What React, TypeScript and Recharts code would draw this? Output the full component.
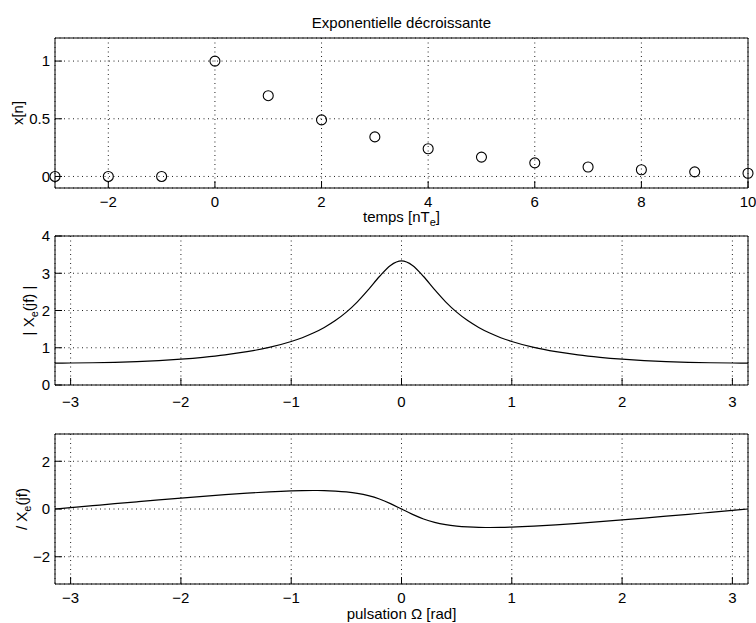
import React from "react";
import { LineChart, Line, XAxis, YAxis, CartesianGrid } from "recharts";

// ---- data: discrete sequence ----
const nValues = [-3, -2, -1, 0, 1, 2, 3, 4, 5, 6, 7, 8, 9, 10];
const xValues = [0, 0, 0, 1, 0.7, 0.49, 0.343, 0.24, 0.168, 0.118, 0.082, 0.058, 0.04, 0.028];

// ---- data: spectrum ----
const omega = [
  -3.14159, -3.0, -2.8, -2.6, -2.4, -2.2, -2.0, -1.8, -1.6, -1.4, -1.2, -1.0, -0.9, -0.8, -0.7,
  -0.6, -0.5, -0.4, -0.3, -0.2, -0.1, 0, 0.1, 0.2, 0.3, 0.4, 0.5, 0.6, 0.7, 0.8, 0.9, 1.0, 1.2,
  1.4, 1.6, 1.8, 2.0, 2.2, 2.4, 2.6, 2.8, 3.0, 3.14159,
];
const magnitude = [
  0.588, 0.59, 0.597, 0.61, 0.63, 0.657, 0.695, 0.744, 0.808, 0.894, 1.009, 1.168, 1.27, 1.394,
  1.545, 1.729, 1.956, 2.233, 2.561, 2.912, 3.211, 3.333, 3.211, 2.912, 2.561, 2.233, 1.956,
  1.729, 1.545, 1.394, 1.27, 1.168, 1.009, 0.894, 0.808, 0.744, 0.695, 0.657, 0.63, 0.61, 0.597,
  0.59, 0.588,
];
const phase = [
  0, 0.058, 0.14, 0.222, 0.302, 0.381, 0.458, 0.532, 0.601, 0.664, 0.718, 0.758, 0.771, 0.775,
  0.771, 0.752, 0.716, 0.655, 0.558, 0.417, 0.226, 0, -0.226, -0.417, -0.558, -0.655, -0.716,
  -0.752, -0.771, -0.775, -0.771, -0.758, -0.718, -0.664, -0.601, -0.532, -0.458, -0.381, -0.302,
  -0.222, -0.14, -0.058, 0,
];

// ---- tick labels ----
const ticksN = [-2, 0, 2, 4, 6, 8, 10];
const ticksX = [0, 0.5, 1];
const ticksOmega = [-3, -2, -1, 0, 1, 2, 3];
const ticksMag = [0, 1, 2, 3, 4];
const ticksPhase = [-2, 0, 2];

const titleText = "Exponentielle décroissante";

const seqData = nValues.map((n, i) => ({ n, x: xValues[i] }));
const specData = omega.map((w, i) => ({ w, mag: magnitude[i], ph: phase[i] }));

const FONT = "'Liberation Sans', Arial, Helvetica, sans-serif";
const FS = 15;
const tickStyle = { fontSize: FS, fill: "#000", fontFamily: FONT };
const fmt = (v: number) => String(v).replace("-", "\u2212");
const PI = Math.PI;

const W = 756;
const H = 623;
const LEFT_W = 40;
const RIGHT_W = 8;
const TOP_H = 8;
const BOT_H = 30;

const frameProps = { stroke: "#000", strokeWidth: 1 };

function rotLabel(parts: React.ReactNode, baselineX: number) {
  return (props: any) => {
    const vb = props.viewBox;
    const cy = vb.y + vb.height / 2;
    return (
      <text
        x={baselineX}
        y={cy}
        transform={`rotate(-90 ${baselineX} ${cy})`}
        textAnchor="middle"
        fontSize={FS}
        fontFamily={FONT}
        fill="#000"
      >
        {parts}
      </text>
    );
  };
}

function Panel(props: {
  top: number;
  bottom: number;
  data: any[];
  xKey: string;
  yKey: string;
  xDomain: [number, number];
  yDomain: [number, number];
  xTicks: number[];
  yTicks: number[];
  tickMarginX: number;
  dots?: boolean;
  xLabel?: any;
  yLabel?: any;
  title?: any;
}) {
  const margin = {
    top: props.top - TOP_H,
    bottom: H - props.bottom - BOT_H,
    left: 55 - LEFT_W,
    right: W - 748 - RIGHT_W,
  };
  return (
    <div style={{ position: "absolute", left: 0, top: 0 }}>
      <LineChart width={W} height={H} data={props.data} margin={margin}>
        <CartesianGrid stroke="#222" strokeDasharray="1 3.5" strokeWidth={1} />
        <XAxis
          dataKey={props.xKey}
          type="number"
          domain={props.xDomain}
          ticks={props.xTicks}
          interval={0}
          tickSize={-7}
          tickMargin={props.tickMarginX}
          tick={tickStyle}
          tickFormatter={fmt}
          axisLine={frameProps}
          tickLine={frameProps}
          height={BOT_H}
          label={props.xLabel}
        />
        <XAxis
          xAxisId="top"
          orientation="top"
          type="number"
          domain={props.xDomain}
          ticks={props.xTicks}
          interval={0}
          tickSize={-7}
          tick={false}
          axisLine={frameProps}
          tickLine={frameProps}
          height={TOP_H}
          label={props.title}
        />
        <YAxis
          type="number"
          domain={props.yDomain}
          ticks={props.yTicks}
          interval={0}
          tickSize={-7}
          tickMargin={12}
          tick={tickStyle}
          tickFormatter={fmt}
          axisLine={frameProps}
          tickLine={frameProps}
          width={LEFT_W}
          label={props.yLabel}
        />
        <YAxis
          yAxisId="r"
          orientation="right"
          type="number"
          domain={props.yDomain}
          ticks={props.yTicks}
          interval={0}
          tickSize={-7}
          tick={false}
          axisLine={frameProps}
          tickLine={frameProps}
          width={RIGHT_W}
        />
        {props.dots ? (
          <Line
            dataKey={props.yKey}
            stroke="none"
            isAnimationActive={false}
            dot={{ r: 5, fill: "none", stroke: "#000", strokeWidth: 1.1 }}
            activeDot={false}
          />
        ) : (
          <Line
            dataKey={props.yKey}
            type="monotone"
            stroke="#000"
            strokeWidth={1.2}
            dot={false}
            activeDot={false}
            isAnimationActive={false}
          />
        )}
      </LineChart>
    </div>
  );
}

const subStyle = { fontSize: 11 };

export default function App() {
  const titleFn = (p: any) => {
    const vb = p.viewBox;
    return (
      <text x={vb.x + vb.width / 2} y={28} textAnchor="middle" fontSize={FS} fontFamily={FONT} fill="#000">
        {titleText}
      </text>
    );
  };
  const xLabel1 = (p: any) => {
    const vb = p.viewBox;
    return (
      <text x={vb.x + vb.width / 2} y={vb.y + 34} textAnchor="middle" fontSize={FS} fontFamily={FONT} fill="#000">
        <tspan>temps [nT</tspan>
        <tspan dy={4} style={subStyle}>e</tspan>
        <tspan dy={-4}>]</tspan>
      </text>
    );
  };
  const xLabel3 = (p: any) => {
    const vb = p.viewBox;
    return (
      <text x={vb.x + vb.width / 2} y={vb.y + 35} textAnchor="middle" fontSize={FS} fontFamily={FONT} fill="#000">
        pulsation Ω [rad]
      </text>
    );
  };
  const yLabel1 = rotLabel(<tspan>x[n]</tspan>, 23);
  const yLabel2 = rotLabel(
    <>
      <tspan>| X</tspan>
      <tspan dy={4} style={subStyle}>e</tspan>
      <tspan dy={-4}>(jf) |</tspan>
    </>,
    34
  );
  const yLabel3 = rotLabel(
    <>
      <tspan>/ X</tspan>
      <tspan dy={4} style={subStyle}>e</tspan>
      <tspan dy={-4}>(jf)</tspan>
    </>,
    27
  );

  return (
    <div style={{ position: "absolute", left: 0, top: 0, width: W, height: H, background: "#fff" }}>
      <Panel
        top={38}
        bottom={188}
        data={seqData}
        xKey="n"
        yKey="x"
        xDomain={[-3, 10]}
        yDomain={[-0.1, 1.2]}
        xTicks={ticksN}
        yTicks={ticksX}
        tickMarginX={15}
        dots
        xLabel={xLabel1}
        yLabel={yLabel1}
        title={titleFn}
      />
      <Panel
        top={236}
        bottom={385}
        data={specData}
        xKey="w"
        yKey="mag"
        xDomain={[-PI, PI]}
        yDomain={[0, 4]}
        xTicks={ticksOmega}
        yTicks={ticksMag}
        tickMarginX={18}
        yLabel={yLabel2}
      />
      <Panel
        top={434}
        bottom={584}
        data={specData}
        xKey="w"
        yKey="ph"
        xDomain={[-PI, PI]}
        yDomain={[-PI, PI]}
        xTicks={ticksOmega}
        yTicks={ticksPhase}
        tickMarginX={15}
        xLabel={xLabel3}
        yLabel={yLabel3}
      />
    </div>
  );
}
